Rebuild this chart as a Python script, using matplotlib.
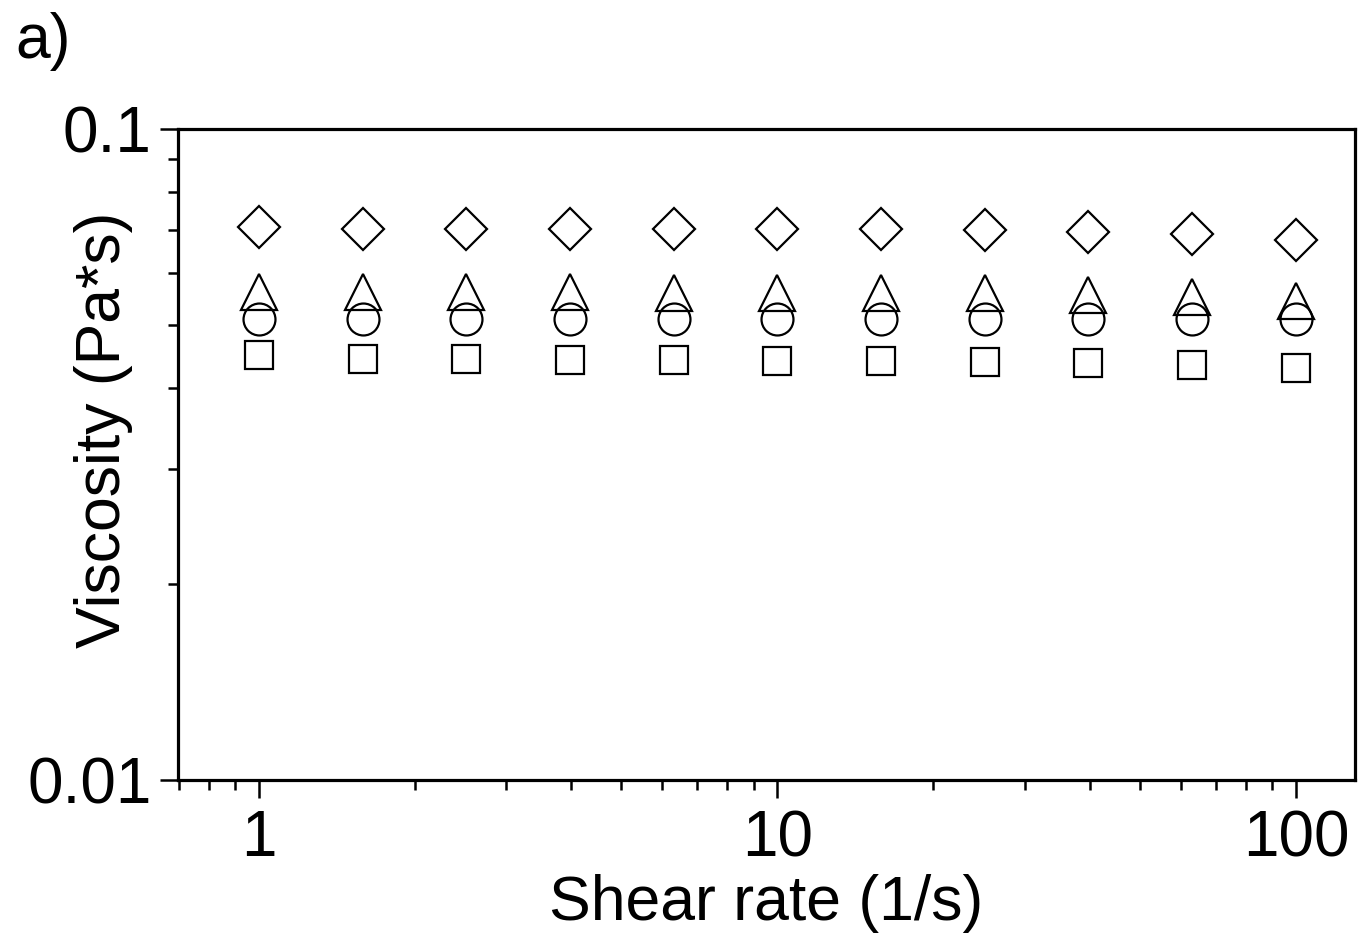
import matplotlib
matplotlib.use("Agg")
import matplotlib.pyplot as plt
from matplotlib.ticker import LogLocator, FixedLocator, FixedFormatter, NullFormatter

plt.rcParams['font.family'] = ['Liberation Sans', 'DejaVu Sans']

shear_rate = [1, 1.585, 2.512, 3.981, 6.31, 10, 15.85, 25.12, 39.81, 63.1, 100]
visc_diamond = [0.0706, 0.0703, 0.0703, 0.0703, 0.0703, 0.0703, 0.0701, 0.0699, 0.0695, 0.0689, 0.0675]
visc_triangle = [0.0561, 0.0561, 0.0561, 0.0561, 0.0560, 0.0560, 0.0560, 0.0559, 0.0556, 0.0552, 0.0544]
visc_circle = [0.0511, 0.0511, 0.0511, 0.0511, 0.0511, 0.0511, 0.0511, 0.0511, 0.0511, 0.0511, 0.0511]
visc_square = [0.0449, 0.0444, 0.0444, 0.0442, 0.0441, 0.0440, 0.0440, 0.0439, 0.0437, 0.0434, 0.0429]

x_ticks = [1, 10, 100]
x_labels = ['1', '10', '100']
y_ticks = [0.01, 0.1]
y_labels = ['0.01', '0.1']

fig = plt.figure(figsize=(13.71, 9.43), dpi=100)
ax = fig.add_axes([0.1298, 0.1729, 0.8585, 0.6903])

style = dict(linestyle='none', mfc='none', mec='black', mew=1.6)
ax.plot(shear_rate, visc_diamond, marker='D', ms=21, **style)
ax.plot(shear_rate, visc_triangle, marker='^', ms=26, **style)
ax.plot(shear_rate, visc_circle, marker='o', ms=23, **style)
ax.plot(shear_rate, visc_square, marker='s', ms=20, **style)

ax.set_xscale('log')
ax.set_yscale('log')
ax.set_xlim(0.698, 130)
ax.set_ylim(0.01, 0.1)

ax.xaxis.set_major_locator(FixedLocator(x_ticks))
ax.xaxis.set_major_formatter(FixedFormatter(x_labels))
ax.xaxis.set_minor_locator(LogLocator(base=10, subs=range(2, 10), numticks=20))
ax.xaxis.set_minor_formatter(NullFormatter())
ax.yaxis.set_major_locator(FixedLocator(y_ticks))
ax.yaxis.set_major_formatter(FixedFormatter(y_labels))
ax.yaxis.set_minor_locator(LogLocator(base=10, subs=range(2, 10), numticks=20))
ax.yaxis.set_minor_formatter(NullFormatter())

for s in ax.spines.values():
    s.set_linewidth(2.3)
ax.tick_params(which='major', direction='out', length=13, width=1.8, labelsize=46,
               top=False, right=False)
ax.tick_params(axis='x', which='major', pad=8)
ax.tick_params(axis='y', which='major', pad=6)
ax.tick_params(which='minor', direction='out', length=7, width=1.8, top=False, right=False)

ax.set_xlabel('Shear rate (1/s)', fontsize=45)
ax.set_ylabel('Viscosity (Pa*s)', fontsize=45)
ax.xaxis.set_label_coords(0.5, -0.145)
ax.yaxis.set_label_coords(-0.038, 0.538)

fig.text(0.011, 0.938, 'a)', fontsize=45, ha='left', va='baseline')

fig.savefig('out.png', dpi=100)
